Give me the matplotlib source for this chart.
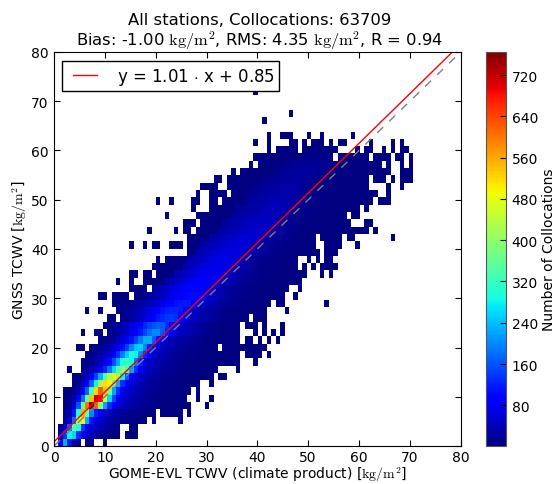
import numpy as np
import matplotlib
matplotlib.use('Agg')
import matplotlib.pyplot as plt
from matplotlib.legend_handler import HandlerLine2D

plt.rcParams['mathtext.fontset'] = 'cm'
plt.rcParams['font.family'] = 'DejaVu Sans'

BIN_W = 0.872
BIN_H = 1.485
NX = 92
NY = 54

# occupied bin runs per row (first column, last column), with the faint count
occupied = {
 0: [(1,5),(7,8),(11,11)], 1: [(1,14),(16,18)], 2: [(1,14),(17,18)],
 3: [(2,20),(22,22),(28,28)], 4: [(2,22),(24,28),(30,30)], 5: [(2,30),(34,34)],
 6: [(2,29),(32,32),(35,35)], 7: [(2,30),(32,32)], 8: [(4,32),(35,35)],
 9: [(4,35),(37,38)], 10: [(3,3),(6,36),(41,41)], 11: [(6,41),(45,45)],
 12: [(7,41),(43,46),(48,48)], 13: [(5,6),(8,36),(38,47)],
 14: [(10,41),(43,44),(46,46),(48,48),(50,50)],
 15: [(6,6),(9,10),(12,41),(45,45),(47,47),(49,49),(51,51)],
 16: [(11,41),(43,45),(47,47),(51,51)], 17: [(12,13),(15,43),(45,47)],
 18: [(7,7),(10,10),(14,47),(52,52)], 19: [(13,48),(50,51),(61,61)],
 20: [(10,11),(13,16),(18,51),(54,54)], 21: [(17,20),(22,52),(55,55)],
 22: [(14,14),(17,17),(20,55)], 23: [(17,18),(20,21),(23,56),(60,60),(62,62)],
 24: [(22,54),(56,56),(58,58),(60,63)],
 25: [(23,23),(25,54),(57,57),(59,59),(61,62)], 26: [(30,59),(61,63)],
 27: [(17,17),(20,20),(22,23),(26,28),(30,58),(61,64),(68,68)],
 28: [(30,58),(60,64),(66,67),(76,76)],
 29: [(21,21),(27,27),(29,30),(32,70),(72,72)], 30: [(29,31),(33,66),(70,71)],
 31: [(25,25),(32,65),(67,68)], 32: [(31,31),(35,68),(70,70)],
 33: [(23,23),(26,26),(31,32),(35,36),(38,71),(73,75)],
 34: [(32,32),(35,38),(40,72),(75,75)], 35: [(33,36),(39,70),(75,75),(78,78)],
 36: [(36,37),(39,70),(72,74),(76,76),(78,80)], 37: [(40,40),(42,75),(78,80)],
 38: [(44,44),(46,73),(75,75),(78,78),(80,80)],
 39: [(45,62),(64,70),(72,75),(77,78),(80,80)],
 40: [(48,48),(50,54),(56,63),(68,68),(70,71),(74,74),(76,76),(78,79)],
 41: [(45,45),(48,48),(53,54),(56,56),(58,60),(62,62),(64,65),(71,71),(76,76),(78,78)],
 42: [(48,48),(51,53),(57,57),(60,60),(67,67)],
 44: [(47,47)], 45: [(53,53)], 48: [(45,45)],
}
faint_count = 3

# counts read along the dense band: row -> (first column, counts)
band = {
 0: (1,[90,230,110,30,15]),
 1: (1,[40,130,280,260,130,70,50,35,25,15,10,8,5,3]),
 2: (1,[10,60,170,350,300,140,80,60,45,35,25,15,10,5]),
 3: (2,[20,50,180,430,500,230,110,70,50,38,28,20,15,12,10,8,5]),
 4: (2,[15,35,110,300,560,380,200,120,80,55,40,30,24,18,14,10,8,6]),
 5: (2,[5,18,60,160,360,600,770,620,400,220,130,85,60,45,35,28,22,18,14,10,8,6]),
 6: (2,[3,10,35,80,180,360,540,720,690,470,260,150,90,60,45,35,28,22,18,14,11,8,6]),
 7: (4,[12,35,85,170,330,520,620,540,380,220,130,85,60,45,35,28,22,18,14,11,8,6]),
 8: (4,[5,12,40,90,170,280,420,520,500,370,230,130,85,60,45,35,28,22,18,14,11,9,7,5]),
 9: (4,[3,8,20,48,90,150,230,340,430,480,420,280,160,95,65,48,38,30,24,20,16,12,9,7,5]),
 10: (6,[8,16,30,50,80,125,185,260,340,400,340,220,130,80,55,42,34,27,22,18,14,11,8,6]),
 11: (6,[5,7,12,25,42,68,105,155,220,290,330,285,190,120,75,52,40,32,26,21,17,13,10,8,6,5]),
 12: (7,[4,7,15,25,42,64,95,135,190,250,285,280,200,125,80,55,42,34,28,22,18,14,11,9,7,5]),
 13: (8,[4,7,12,20,34,50,75,105,145,195,245,255,190,120,78,55,42,34,28,22,18,14,11,9,7,5]),
 14: (10,[5,8,15,24,38,55,80,110,145,190,225,225,165,105,70,50,40,32,26,21,17,13,10,8,6,5]),
 15: (12,[8,14,22,34,50,68,90,115,150,180,200,200,165,115,82,62,48,38,32,26,20,16,12,9,7,5]),
 16: (11,[6,9,15,22,33,45,62,80,100,125,145,160,170,165,130,95,70,52,42,34,28,22,18,14,10,8,6,5]),
 17: (15,[11,16,24,34,45,58,75,95,112,128,138,140,130,105,80,62,48,38,30,25,20,16,12,10,7,5,4]),
 18: (14,[6,10,16,22,30,40,52,66,82,98,110,118,125,125,112,90,68,50,40,32,26,20,16,12,9,7,5,4]),
 19: (15,[4,7,11,16,22,30,38,48,60,72,86,98,108,114,115,112,98,78,58,44,35,28,22,17,13,10,8,6,5]),
 20: (20,[16,22,30,38,48,58,70,82,92,100,105,105,100,85,68,52,40,32,26,20,16,12,9,7,5,4]),
 21: (22,[24,30,38,48,58,68,78,86,92,95,94,85,70,56,44,36,30,24,18,14,10,8,6,5]),
 22: (25,[30,38,46,54,64,72,80,84,88,88,80,68,54,44,35,28,22,17,13,10,7,6,5]),
 23: (27,[32,38,46,54,62,70,75,78,80,80,72,60,48,38,30,24,18,14,11,8,6,5]),
 24: (29,[34,40,46,54,62,68,72,75,76,72,62,50,40,32,26,20,15,12,9,7,5]),
 25: (30,[30,36,42,48,56,62,68,70,72,68,58,48,38,30,24,18,14,11,8,6,5]),
 26: (32,[32,38,44,50,56,60,64,66,68,64,54,44,36,28,22,17,13,10,8,6,5]),
 27: (33,[28,32,38,42,48,52,56,60,62,62,56,46,38,30,24,18,14,11,8,6,5]),
 28: (35,[26,30,36,40,44,48,52,56,58,58,52,44,36,28,22,17,13,10,8,6,5]),
 29: (37,[24,28,32,37,41,45,48,51,52,50,44,36,30,24,18,14,10,8,6,5]),
 30: (38,[20,24,28,32,36,40,43,46,48,48,44,38,30,24,18,14,10,8,6,5]),
 31: (40,[21,24,28,32,35,38,41,43,44,42,36,30,24,18,14,10,8,6,5]),
 32: (41,[16,20,24,27,30,33,36,39,40,40,36,30,24,18,14,10,8,6,5]),
 33: (43,[16,19,22,25,28,31,34,36,36,33,28,23,18,14,10,8,6,5]),
 34: (44,[13,16,19,22,25,28,30,32,32,30,26,20,16,12,9,7,5,4]),
 35: (45,[10,13,16,19,22,24,26,28,28,26,22,18,14,11,8,6,5,4]),
 36: (47,[8,11,14,17,19,21,22,22,20,18,15,12,9,7,5,4]),
 37: (49,[8,12,15,18,20,22,23,23,22,19,15,12,9,7,5]),
 38: (52,[7,10,13,15,16,17,17,16,14,11,8,6,5]),
 39: (55,[6,8,10,12,12,12,10,8,6,5]),
}

title_lines = ['All stations, Collocations: 63709',
               r'Bias: -1.00 $\mathrm{kg/m^2}$, RMS: 4.35 $\mathrm{kg/m^2}$, R = 0.94']
fit_slope, fit_offset = 1.01, 0.85
fit_label = 'y = 1.01 $\\cdot$ x + 0.85'
cbar_ticks = [80, 160, 240, 320, 400, 480, 560, 640, 720]

counts = np.zeros((NY, NX))
for r, runs in occupied.items():
    for a, b in runs:
        counts[r, a:b + 1] = faint_count
for r, (first, vals) in band.items():
    for offset, v in enumerate(vals):
        c = first + offset
        if counts[r, c] > 0:
            counts[r, c] = v
masked = np.ma.masked_equal(counts, 0)

W, H = 556, 485
fig = plt.figure(figsize=(W / 100, H / 100), dpi=100)
ax = fig.add_axes([54 / W, 1 - 447 / H, 406.7 / W, 394 / H])
xe = np.arange(NX + 1) * BIN_W
ye = np.arange(NY + 1) * BIN_H
mesh = ax.pcolormesh(xe, ye, masked, cmap='jet', vmin=1, vmax=765)

line_x = np.array([0, 80])
ax.plot(line_x, line_x, color='gray', lw=1, ls=(0, (6, 6)))
fit_line, = ax.plot(line_x, fit_slope * line_x + fit_offset, color='red', lw=1, label=fit_label)
ax.set_xlim(0, 80)
ax.set_ylim(0, 80)
ax.tick_params(direction='in', top=True, right=True, length=4, width=0.8, labelsize=10, pad=4)
ax.tick_params(axis='x', pad=3)
ax.set_xticks(range(0, 81, 10))
ax.set_yticks(range(0, 81, 10))
ax.set_xlabel(r'GOME-EVL TCWV (climate product) [$\mathrm{kg/m^2}$]', fontsize=10, labelpad=0)
ax.set_ylabel(r'GNSS TCWV [$\mathrm{kg/m^2}$]', fontsize=10, labelpad=1)
ax.set_title('\n'.join(title_lines), fontsize=11.8, pad=5.5, linespacing=1.05, x=0.506)
leg = ax.legend(loc='upper left', bbox_to_anchor=(8 / 406.7, 1 - 9 / 394), borderaxespad=0,
                fontsize=12, fancybox=False, framealpha=1, edgecolor='black',
                handlelength=2.2, handletextpad=0.8, borderpad=0.28,
                handler_map={fit_line: HandlerLine2D(marker_pad=0.38, numpoints=2)})
leg.get_frame().set_linewidth(1)

cax = fig.add_axes([486 / W, 1 - 447 / H, 20 / W, 394 / H])
cb = fig.colorbar(mesh, cax=cax, ticks=cbar_ticks)
cb.ax.tick_params(direction='in', length=4, width=0.8, labelsize=10, pad=4)
cb.set_label('Number of Collocations', fontsize=10, labelpad=3)
cb.outline.set_edgecolor('#555555')

fig.savefig('out.png', dpi=100)
